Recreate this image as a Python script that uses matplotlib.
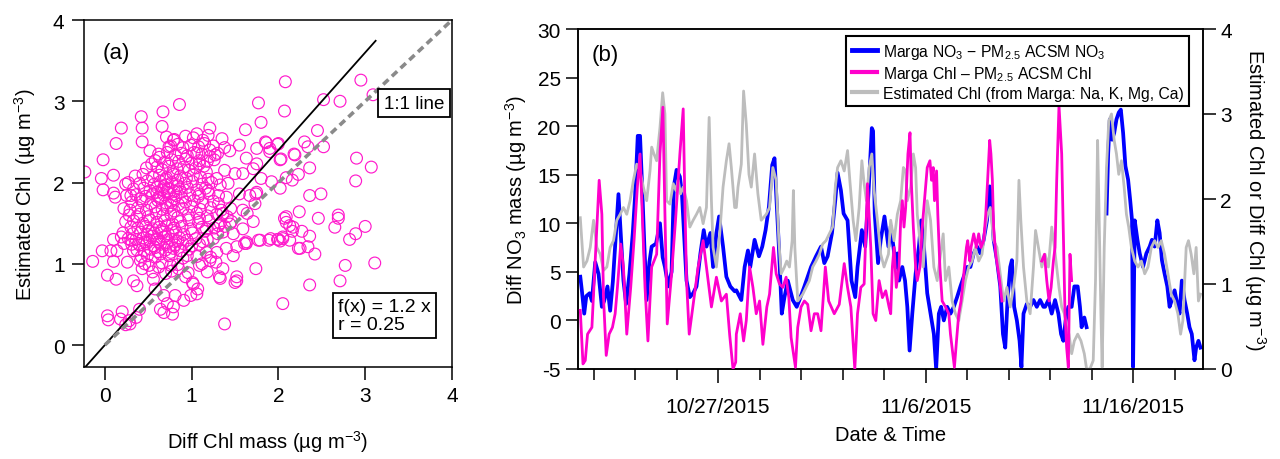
import numpy as np
import pandas as pd
import matplotlib
matplotlib.use('Agg')
import matplotlib.pyplot as plt
from matplotlib.lines import Line2D

plt.rcParams['font.family'] = ['Liberation Sans', 'DejaVu Sans']
plt.rcParams['mathtext.fontset'] = 'custom'
plt.rcParams['mathtext.rm'] = 'Liberation Sans'
plt.rcParams['mathtext.it'] = 'Liberation Sans:italic'
plt.rcParams['mathtext.default'] = 'regular'
plt.rcParams['axes.unicode_minus'] = False

# ---- panel (a): Diff Chl mass vs estimated Chl (ug m-3) ----
scatter_pts = [
    (-0.23, 2.13), (-0.02, 2.28), (-0.04, 2.05), (-0.02, 1.91), (0.10, 2.09), (0.12, 1.82), (0.13, 2.48),
    (0.19, 2.67), (0.42, 2.81), (0.43, 2.67), (0.43, 2.50), (0.67, 2.87), (0.66, 2.69), (0.86, 2.96),
    (-0.14, 1.03), (-0.03, 1.16), (0.03, 0.86), (0.13, 0.81), (0.03, 0.36), (0.04, 0.31), (0.20, 0.41),
    (0.29, 0.26), (0.36, 0.34), (0.40, 0.44), (1.38, 0.26), (2.05, 0.51), (1.74, 0.94), (1.52, 0.79),
    (1.33, 0.82), (2.36, 0.74), (2.71, 0.79), (2.77, 0.98), (3.11, 1.01), (2.42, 1.12), (2.34, 1.21),
    (2.25, 1.19), (3.00, 1.46), (2.89, 1.37), (2.82, 1.30), (2.65, 1.45), (2.69, 1.56), (2.69, 1.60),
    (2.46, 1.56), (2.24, 1.64), (2.07, 1.56), (2.13, 1.47), (2.16, 1.40), (2.27, 1.40), (2.36, 1.34),
    (2.36, 1.84), (2.49, 1.86), (2.36, 2.18), (2.34, 2.44), (2.30, 2.50), (2.45, 2.64), (2.52, 2.44),
    (2.19, 2.34), (2.23, 2.10), (2.16, 2.03), (2.09, 2.06), (2.02, 1.93), (2.02, 2.28), (1.99, 2.47),
    (1.85, 2.50), (1.75, 2.42), (1.80, 2.74), (1.77, 2.98), (2.07, 2.88), (2.08, 3.24), (2.52, 3.02),
    (2.71, 3.00), (2.95, 3.26), (3.09, 3.08), (2.90, 2.30), (3.07, 2.19), (2.89, 2.02), (1.62, 2.65),
    (1.90, 2.38), (1.91, 1.31), (1.77, 1.29), (1.89, 1.29), (1.99, 1.30), (2.02, 1.28), (2.05, 1.31),
    (1.71, 1.52), (1.74, 1.86), (1.75, 1.88), (1.64, 1.62), (1.63, 1.25), (1.50, 0.77), (1.32, 0.84),
    (0.52, 2.39), (0.63, 2.31), (0.54, 2.23), (0.10, 1.87), (0.24, 1.98), (0.30, 1.84), (0.41, 1.80),
    (0.29, 1.66), (0.37, 1.58), (0.79, 2.52), (0.74, 2.44),
    (1.35, 2.54), (1.21, 2.67), (1.06, 2.60), (1.55, 2.46), (1.44, 2.39), (1.27, 2.34), (1.86, 2.49),
    (2.00, 2.48), (1.90, 2.42), (2.03, 2.29), (2.18, 2.35), (1.75, 2.23), (1.63, 2.30), (1.71, 2.17),
    (1.38, 2.15), (1.50, 2.11), (1.59, 2.11), (1.80, 2.05), (1.92, 2.01), (1.42, 1.99), (1.29, 2.05),
    (1.17, 2.13), (1.09, 2.23), (1.67, 1.84), (1.55, 1.86), (1.40, 1.82), (1.31, 1.74), (1.19, 1.90),
    (1.36, 1.62), (1.59, 1.66), (1.73, 1.74), (2.09, 1.58), (1.09, 1.86), (1.06, 2.36), (1.21, 2.40),
    (0.10, 1.30), (0.19, 1.33), (0.07, 1.16), (0.14, 1.16), (0.22, 1.25), (0.10, 1.03), (0.26, 1.02),
    (0.33, 0.79), (0.37, 0.73), (0.56, 0.81), (0.58, 0.69), (0.70, 0.88), (0.43, 0.94), (0.51, 0.98),
    (0.68, 0.61), (0.68, 0.40), (0.78, 0.38), (0.79, 0.47), (0.72, 0.51), (0.64, 0.44), (0.81, 0.61),
    (0.91, 0.55), (0.99, 0.61), (1.01, 0.77), (0.93, 0.84), (0.85, 0.94), (0.76, 0.98), (0.62, 0.96),
    (0.18, 0.32), (0.28, 0.30), (0.24, 0.25), (0.33, 1.16), (0.30, 1.29), (0.39, 1.25), (0.41, 1.04),
    (0.49, 1.10), (0.64, 1.12), (0.76, 1.14), (0.87, 1.16), (0.95, 1.10),
    (1.79, 1.29), (2.00, 1.30), (2.05, 1.33), (2.13, 1.29), (2.23, 1.19), (2.09, 1.51), (2.17, 1.45),
    (1.63, 1.27), (1.52, 0.84), (1.07, 0.69), (1.06, 0.63), (1.02, 0.75), (1.09, 0.98), (1.21, 1.04),
    (1.36, 0.94), (1.48, 1.10), (1.40, 1.19), (1.52, 1.21), (1.61, 1.25), (1.29, 1.14), (1.17, 1.14),
    (1.13, 1.27), (1.25, 1.31), (1.36, 1.39), (1.48, 1.37), (1.59, 1.43), (1.44, 1.49), (1.31, 1.47),
    (1.17, 1.43), (1.09, 1.56),
    # dense core
    (0.71, 2.56), (0.80, 2.53), (0.93, 2.57), (1.02, 2.55), (1.13, 2.52), (1.19, 2.58),
    (0.76, 2.45), (0.84, 2.47), (0.90, 2.43), (0.99, 2.46), (1.08, 2.44), (1.15, 2.48), (1.25, 2.45), (1.38, 2.43),
    (0.62, 2.35), (0.72, 2.37), (0.81, 2.34), (0.88, 2.36), (0.95, 2.33), (1.03, 2.37), (1.12, 2.35), (1.21, 2.32),
    (1.30, 2.36), (0.58, 2.27), (0.69, 2.25), (0.77, 2.28), (0.85, 2.26), (0.93, 2.29), (1.00, 2.24), (1.09, 2.27),
    (1.18, 2.26), (1.26, 2.28), (0.48, 2.18), (0.60, 2.19), (0.66, 2.16), (0.74, 2.20), (0.83, 2.17), (0.91, 2.19),
    (0.97, 2.15), (1.05, 2.18), (1.14, 2.20), (0.35, 2.08), (0.44, 2.10), (0.55, 2.07), (0.63, 2.09), (0.71, 2.06),
    (0.79, 2.10), (0.87, 2.08), (0.94, 2.05), (1.02, 2.09), (1.10, 2.07), (1.19, 2.04), (0.27, 2.00), (0.40, 1.99),
    (0.49, 2.02), (0.57, 1.98), (0.64, 2.01), (0.70, 1.97), (0.77, 2.00), (0.84, 2.03), (0.92, 1.99), (1.01, 2.01),
    (1.12, 1.98), (1.23, 2.00), (1.33, 1.97), (0.33, 1.92), (0.45, 1.93), (0.52, 1.90), (0.60, 1.94), (0.66, 1.91),
    (0.73, 1.93), (0.80, 1.89), (0.86, 1.92), (0.95, 1.94), (1.06, 1.91), (1.16, 1.93), (0.25, 1.84), (0.36, 1.85),
    (0.47, 1.83), (0.55, 1.86), (0.62, 1.82), (0.68, 1.85), (0.74, 1.87), (0.82, 1.84), (0.89, 1.81), (0.98, 1.85),
    (1.08, 1.83), (1.20, 1.86), (1.31, 1.84), (0.31, 1.76), (0.43, 1.77), (0.53, 1.74), (0.61, 1.78), (0.70, 1.75),
    (0.77, 1.77), (0.85, 1.73), (0.93, 1.76), (1.03, 1.78), (1.13, 1.75), (1.25, 1.77), (0.22, 1.68), (0.38, 1.69),
    (0.48, 1.66), (0.58, 1.70), (0.66, 1.67), (0.72, 1.69), (0.80, 1.65), (0.90, 1.68), (1.00, 1.70), (1.10, 1.67),
    (1.22, 1.69), (1.34, 1.66), (1.45, 1.68), (0.28, 1.60), (0.40, 1.61), (0.50, 1.58), (0.59, 1.62), (0.67, 1.59),
    (0.76, 1.61), (0.84, 1.57), (0.96, 1.60), (1.06, 1.62), (1.18, 1.59), (1.29, 1.61), (1.41, 1.58), (0.24, 1.52),
    (0.33, 1.53), (0.44, 1.50), (0.52, 1.54), (0.60, 1.51), (0.69, 1.53), (0.78, 1.49), (0.87, 1.52), (0.97, 1.54),
    (1.08, 1.51), (1.20, 1.53), (1.33, 1.50), (1.46, 1.52), (0.30, 1.45), (0.38, 1.44), (0.47, 1.46), (0.55, 1.43),
    (0.63, 1.45), (0.71, 1.47), (0.80, 1.44), (0.89, 1.46), (0.99, 1.43), (1.12, 1.45), (1.26, 1.44), (1.38, 1.46),
    (0.21, 1.38), (0.32, 1.37), (0.41, 1.39), (0.49, 1.36), (0.57, 1.38), (0.65, 1.40), (0.73, 1.37), (0.82, 1.39),
    (0.91, 1.36), (1.01, 1.38), (1.15, 1.40), (1.30, 1.37), (0.27, 1.31), (0.36, 1.30), (0.44, 1.32), (0.52, 1.29),
    (0.60, 1.31), (0.68, 1.33), (0.77, 1.30), (0.86, 1.32), (0.95, 1.29), (1.05, 1.31), (1.18, 1.30), (0.31, 1.24),
    (0.40, 1.23), (0.48, 1.25), (0.56, 1.22), (0.64, 1.24), (0.72, 1.26), (0.81, 1.23), (0.90, 1.25), (1.00, 1.22),
    (1.09, 1.24), (0.37, 1.17), (0.45, 1.16), (0.53, 1.18), (0.61, 1.15), (0.70, 1.17), (0.79, 1.19), (0.88, 1.16),
    (0.97, 1.18), (0.42, 1.09), (0.58, 1.08), (0.74, 1.10), (0.90, 1.07), (1.06, 1.09), (1.22, 1.08), (0.46, 1.00),
    (0.66, 1.01), (0.84, 0.99), (1.12, 1.00), (1.28, 1.02), (0.55, 0.90), (0.77, 0.91), (0.96, 0.89), (1.18, 0.90),
    (0.46, 1.27), (0.54, 1.34), (0.62, 1.27), (0.70, 1.34), (0.78, 1.41), (0.50, 1.41), (0.58, 1.20), (0.66, 1.42),
    (0.74, 1.21), (0.84, 1.28), (0.64, 1.80), (0.72, 1.88), (0.80, 1.80), (0.68, 1.95), (0.76, 1.72), (0.84, 1.96),
    (0.88, 1.88), (0.60, 1.88), (0.70, 2.04), (0.78, 2.12),
]
fit_slope = 1.2
fit_r = 0.25

# ---- panel (b): time series, days after 2015-10-20 00:00 ----
start_date = '2015-10-20'

no3_days = [
    0.36, 0.44, 0.55, 0.65, 0.81, 0.92, 1.08, 1.24, 1.40, 1.51, 1.67, 1.80, 1.93, 2.04, 2.20, 2.31, 2.44, 2.57,
    2.73, 2.89, 3.00, 3.13, 3.24, 3.34, 3.45, 3.56, 3.69, 3.80, 4.01, 4.20, 4.33, 4.44, 4.60, 4.76, 4.87, 5.00,
    5.16, 5.26, 5.35, 5.48, 5.64, 5.80, 5.96, 6.15, 6.31, 6.44, 6.63, 6.76, 6.92, 7.05, 7.24, 7.40, 7.59, 7.80,
    7.88, 8.12, 8.28, 8.44, 8.55, 8.76, 8.97, 9.13, 9.29, 9.45, 9.61, 9.72, 9.80, 9.93, 10.07, 10.20, 10.36,
    10.60, 10.79, 10.92, 11.16, 11.48, 11.72, 11.96, 12.12, 12.28, 12.49, 12.65, 12.76, 12.92, 13.05, 13.24,
    13.43, 13.61, 13.72, 13.93, 14.09, 14.25, 14.41, 14.47, 14.55, 14.71, 14.84, 15.02, 15.21,
    15.32, 15.45, 15.56, 15.64, 15.72, 15.88, 16.01, 16.12, 16.23, 16.36, 16.52, 16.68, 16.79, 16.92, 17.08,
    17.24, 17.40, 17.51, 17.64, 17.75, 17.88, 18.04, 18.20, 18.36, 18.52, 18.68, 18.84, 19.00, 19.16, 19.32,
    19.48, 19.64, 19.80, 19.96, 20.09, 20.20, 20.28, 20.44, 20.60, 20.73, 20.84, 20.95, 21.08, 21.16, 21.27,
    21.40, 21.53, 21.62, 21.72, 21.88, 22.04, 22.20, 22.36, 22.52, 22.68,
    22.76, 22.92, 23.08, 23.24, 23.40, 23.53, 23.64, 23.75, 23.88, 24.04, 24.17, 24.33, 24.44, 24.52, 24.65,
    24.76, 25.20, 25.72, 25.80, 25.88, 25.99, 26.09, 26.20, 26.31, 26.41, 26.52, 26.63, 26.76, 26.86, 26.95,
    27.00, 27.08, 27.21, 27.32, 27.48, 27.64, 27.80, 27.91, 28.04, 28.17, 28.28, 28.39, 28.52, 28.65, 28.76,
    28.87, 29.00, 29.13, 29.24, 29.35, 29.48, 29.61, 29.72, 29.83, 29.96, 30.04, 30.15, 30.25,
]
no3_diff = [
    4.5, 3.0, 0.7, 2.5, 2.8, 2.0, 6.0, 4.8, 1.4, 2.0, 3.5, 1.0, 4.0, 7.6, 13.0, 9.0, 4.1, 1.7,
    4.8, 9.0, 12.8, 19.0, 19.0, 13.8, 7.6, 2.1, 6.0, 7.6, 7.9, 10.0, 6.5, 5.5, 3.5, 5.0, 13.8, 15.5,
    14.8, 13.0, 9.3, 4.1, 2.4, 2.8, 3.5, 6.9, 9.3, 7.6, 9.0, 5.5, 9.0, 10.7, 7.6, 4.5, 3.5, 3.0,
    3.1, 2.1, 5.5, 7.2, 5.5, 8.3, 6.6, 7.6, 9.3, 11.7, 16.0, 16.7, 13.1, 7.6, 0.7, 2.4, 4.1,
    2.1, 1.4, 2.1, 3.5, 5.5, 6.6, 7.6, 5.9, 6.6, 9.0, 12.4, 15.2, 13.4, 11.0, 10.3,
    4.1, 2.4, 5.5, 9.3, 7.6, 13.1, 19.8, 19.5, 11.0, 5.9, 8.3, 10.7, 7.6,
    9.7, 7.6, 5.5, 6.9, 4.1, 5.5, 4.1, 1.4, -3.1, 0.7, 4.8, 7.6, 10.3, 7.6, 2.8,
    0.7, -1.4, -5.0, 0.7, 1.4, 0.0, 1.4, 0.7, 1.4, 2.4, 3.5, 4.5, 5.5, 5.5, 6.9,
    7.6, 6.9, 8.3, 10.3, 13.8, 11.7, 8.3, 6.2, 3.5, -1.4, -2.8, 2.1, 5.5, 6.2, 1.4,
    0.0, -2.1, -4.8, 0.7, 1.7, 1.4, 2.1, 1.4, 2.1, 1.4,
    1.4, 2.1, 0.7, 2.1, 0.7, -1.4, -2.1, 0.0, 1.4, 1.4, 3.5, 3.5, 1.4, -0.7, 0.3,
    -0.7, np.nan, 11.0, 17.2, 20.7, 18.6, 19.3, 20.7, 21.4, 21.7, 19.3, 15.9, 14.5, 12.4, 10.3,
    -4.8, 10.3, 8.3, 6.9, 5.5, 6.9, 7.6, 8.3, 7.6, 10.3, 9.0, 6.2, 4.8, 3.5, 1.4,
    2.1, 3.1, 1.7, 0.7, 4.1, 2.1, 0.7, -0.7, -1.4, -4.1, -2.8, -2.1, -2.8,
]

chl_days = [
    0.36, 0.49, 0.60, 0.71, 0.92, 1.11, 1.27, 1.40, 1.48, 1.61, 1.75, 1.91, 2.04, 2.15, 2.31, 2.44, 2.60, 2.79,
    2.95, 3.11, 3.24, 3.35, 3.48, 3.62, 3.80, 4.04, 4.20, 4.34, 4.44, 4.55, 4.76, 4.95, 5.16, 5.32, 5.40, 5.48,
    5.61, 5.80, 6.04, 6.28, 6.44, 6.68, 6.92, 7.16, 7.40, 7.56, 7.72, 7.85,
    7.88, 8.07, 8.23, 8.36, 8.52, 8.68, 8.84, 9.00, 9.16, 9.35, 9.48, 9.67, 9.80, 9.96, 10.12, 10.28, 10.41,
    10.52, 10.73, 10.84, 11.00, 11.16, 11.32, 11.48, 11.64, 11.80, 11.96, 12.17, 12.33, 12.60, 12.84, 13.08,
    13.24, 13.40, 13.59, 13.72, 13.88, 14.04, 14.20, 14.36, 14.47, 14.60, 14.76, 14.92, 15.08, 15.24,
    15.32, 15.40, 15.48, 15.59, 15.72, 15.80, 15.88, 15.96, 16.04, 16.15, 16.25, 16.31, 16.41, 16.52, 16.60,
    16.73, 16.84, 17.00, 17.08, 17.21, 17.29, 17.37, 17.43, 17.53, 17.59, 17.69, 17.80, 17.96, 18.12, 18.20,
    18.28, 18.39, 18.49, 18.60, 18.71, 18.84, 18.97, 19.03, 19.13, 19.19, 19.32, 19.45, 19.56, 19.67, 19.80,
    19.90, 19.99, 20.09, 20.15, 20.22, 20.28, 20.38, 20.47, 20.57, 20.68,
    21.60, 22.60, 22.73, 22.84, 22.95, 23.05, 23.16, 23.24, 23.32, 23.37, 23.43, 23.50, 23.56, 23.64, 23.72,
    23.80, 23.88, 23.96, 24.04,
]
chl_diff = [
    0.69, 0.06, 0.10, 0.41, 0.49, 1.43, 2.22, 1.82, 0.84, 0.16, 0.41, 0.49, 0.65, 0.96, 1.47, 1.20, 0.41, 0.96,
    1.51, 2.14, 2.53, 1.82, 0.96, 0.33, 1.20, 1.35, 2.53, 3.08, 1.82, 0.53, 1.12, 1.75, 2.53, 3.06, 1.98, 1.04,
    0.41, 0.76, 1.20, 1.51, 1.20, 0.73, 1.08, 0.80, 0.88, 0.40, 0.00, 0.08,
    0.41, 0.65, 0.33, 0.57, 1.20, 0.96, 0.65, 0.80, 0.29, 0.73, 0.88, 1.43, 1.12, 1.00, 0.96, 1.08, 0.84,
    0.37, 0.02, 0.49, 0.73, 0.80, 0.76, 0.45, 0.65, 0.65, 0.45, 1.20, 0.80, 0.65, 0.76, 1.24,
    0.96, 0.73, 0.00, 0.65, 0.96, 1.00, 2.18, 1.43, 0.65, 0.57, 1.04, 0.84, 0.92, 0.73,
    0.65, 1.20, 1.43, 0.96, 1.20, 1.75, 1.98, 1.67, 1.90, 2.53, 2.78, 2.22, 1.67, 1.20, 1.04,
    1.20, 1.67, 2.14, 2.37, 2.45, 2.22, 2.37, 1.98, 2.33, 1.82, 1.20, 0.80, 0.73, 0.65, 0.41,
    0.25, 0.02, 0.33, 0.65, 0.80, 1.12, 1.43, 1.51, 1.27, 1.43, 1.59, 1.43, 1.59, 1.43, 1.51,
    1.82, 2.22, 2.69, 2.53, 2.22, 1.67, 1.35, 1.20, 1.04, 0.80,
    np.nan, 1.27, 1.35, 1.04, 0.80, 0.96, 1.27, 1.43, 2.22, 2.61, 3.10, 2.80, 2.53, 1.59, 0.65,
    0.25, 0.02, 1.35, 1.04,
]

est_days = [
    0.36, 0.52, 0.68, 0.84, 1.00, 1.16, 1.32, 1.48, 1.64, 1.80, 1.96, 2.12, 2.28, 2.44, 2.60, 2.76, 2.92, 3.08,
    3.24, 3.40, 3.56, 3.72, 3.80, 3.91, 4.04, 4.20, 4.33, 4.44, 4.52, 4.68, 4.84, 4.97, 5.08, 5.19, 5.32, 5.48,
    5.64, 5.80, 5.96, 6.12, 6.28, 6.44, 6.57, 6.68, 6.76, 6.92, 7.08, 7.24, 7.40, 7.53, 7.64, 7.80,
    7.88, 7.96, 8.12, 8.23, 8.36, 8.49, 8.60, 8.76, 8.92, 9.08, 9.32, 9.48, 9.64, 9.80, 9.93, 10.04, 10.20,
    10.31, 10.44, 10.57, 10.63, 10.70, 10.84, 11.08, 11.24, 11.40, 11.56, 11.72, 11.88, 12.04, 12.20, 12.36,
    12.52, 12.65, 12.76, 12.92, 13.08, 13.24, 13.35, 13.51, 13.64, 13.80, 13.93, 14.04, 14.15, 14.28, 14.41,
    14.52, 14.68, 14.84, 15.00, 15.21,
    15.32, 15.48, 15.64, 15.80, 15.93, 16.04, 16.12, 16.28, 16.41, 16.52, 16.60, 16.76, 16.89, 17.00, 17.08,
    17.24, 17.40, 17.56, 17.72, 17.85, 17.96, 18.12, 18.28, 18.44, 18.60, 18.76, 18.92, 19.08, 19.24, 19.40,
    19.56, 19.72, 19.88, 19.99, 20.12, 20.28, 20.44, 20.60, 20.76, 20.92, 21.08, 21.24, 21.40, 21.50, 21.59,
    21.72, 21.88, 22.04, 22.20, 22.30, 22.44, 22.60,
    22.76, 22.92, 23.08, 23.21, 23.32, 23.43, 23.56, 23.69, 23.80, 23.91, 24.04, 24.17, 24.33, 24.49, 24.65,
    24.76, 24.92, 25.08, 25.19, 25.29, 25.35, 25.45, 25.51, 25.61, 25.72, 25.83, 25.96, 26.09, 26.20, 26.31,
    26.44, 26.57, 26.68, 26.79, 26.92, 27.08, 27.24, 27.40, 27.56, 27.72, 27.88, 28.04, 28.20, 28.36, 28.52,
    28.68, 28.84, 29.00, 29.16, 29.29, 29.40, 29.56, 29.67, 29.80, 29.93, 30.04, 30.15, 30.25,
]
est_chl = [
    1.78, 1.20, 1.27, 1.43, 1.75, 1.43, 1.35, 1.16, 1.20, 1.43, 1.51, 1.75, 1.82, 1.90, 1.82, 1.98, 2.22, 2.41,
    2.33, 2.14, 1.98, 2.33, 2.61, 2.53, 2.45, 2.84, 3.25, 3.00, 1.98, 1.94, 2.18, 2.10, 2.22, 2.06, 2.14, 1.98,
    1.67, 1.75, 1.82, 1.90, 1.71, 1.90, 2.96, 1.98, 1.43, 1.20, 1.59, 2.14, 2.45, 2.65, 2.37, 1.90,
    1.90, 2.14, 2.41, 3.27, 2.88, 2.29, 2.14, 2.53, 2.06, 1.75, 1.82, 1.90, 2.37, 2.22, 1.51, 1.12, 1.20,
    1.27, 1.20, 1.51, 2.10, 1.43, 0.80, 0.88, 0.96, 1.04, 1.20, 1.27, 1.35, 1.47, 1.51, 1.59,
    1.67, 2.14, 2.37, 2.45, 2.33, 2.57, 2.22, 1.75, 1.51, 1.90, 2.45, 2.18, 1.98, 2.37, 2.53,
    2.10, 1.75, 1.35, 1.20, 1.35,
    1.75, 1.51, 1.82, 1.98, 2.37, 2.33, 1.98, 2.14, 2.53, 2.37, 1.82, 1.43, 1.20, 1.67, 1.98,
    1.75, 1.20, 1.04, 1.35, 1.59, 1.04, 1.20, 0.80, 0.65, 0.57, 0.80, 1.04, 1.20, 1.27, 1.43,
    1.27, 1.35, 1.67, 1.82, 1.90, 1.51, 1.43, 1.12, 0.80, 0.96, 0.73, 0.96, 1.27, 2.22, 1.75,
    1.20, 0.80, 0.65, 1.20, 1.63, 1.43, 1.20,
    1.35, 1.20, 1.67, 1.43, 1.20, 0.96, 0.73, 0.65, 0.49, 0.41, 0.18, 0.33, 0.41, 0.33, 0.18,
    0.00, 0.00, 0.10, 1.04, 2.69, 1.98, 0.65, 0.02, 1.43, 2.37, 2.92, 3.00, 2.69, 2.53, 2.29,
    2.45, 2.14, 1.82, 1.67, 1.43, 1.27, 1.20, 1.27, 1.12, 1.20, 1.43, 1.51, 1.43, 1.51, 1.35,
    1.12, 0.88, 0.80, 0.65, 0.41, 0.57, 1.43, 1.51, 1.35, 1.12, 1.43, 0.80, 0.88,
]

legend_labels = [
    'Marga NO$_3$ \u2212 PM$_{2.5}$ ACSM NO$_3$',
    'Marga Chl \u2013 PM$_{2.5}$ ACSM Chl',
    'Estimated Chl (from Marga: Na, K, Mg, Ca)',
]
blue = '#0000ff'
pink = '#ff00cc'
grey = '#bdbdbd'


def to_time(days):
    return pd.Timestamp(start_date) + pd.to_timedelta(np.asarray(days, dtype=float), unit='D')


fig = plt.figure(figsize=(12.8, 4.6), dpi=100)
ax1 = fig.add_axes([84 / 1280, 1 - 368 / 460, 368 / 1280, 347 / 460])
ax = fig.add_axes([578 / 1280, 1 - 370 / 460, 625 / 1280, 340 / 460])
ax2 = ax.twinx()

# panel (a)
sx = [p[0] for p in scatter_pts]
sy = [p[1] for p in scatter_pts]
ax1.scatter(sx, sy, s=72, facecolors='none', edgecolors='#ff1acc', linewidths=0.85, zorder=2)
fx = np.array([-0.24, 3.12])
ax1.plot(fx, fit_slope * fx, color='black', lw=1.3, zorder=3)
ax1.plot([0, 4], [0, 4], color='#8a8a8a', lw=2.6, ls=(0, (2.0, 1.3)), zorder=3)
ax1.set_xlim(-0.24, 4)
ax1.set_ylim(-0.27, 4)
ax1.set_xticks(range(5))
ax1.set_yticks(range(5))
ax1.tick_params(direction='out', length=9, width=1.1, labelsize=15, pad=5)
for s in ax1.spines.values():
    s.set_linewidth(1.1)
ax1.set_xlabel('Diff Chl mass (\u00b5g m$^{-3}$)', fontsize=14.5, labelpad=16)
ax1.set_ylabel('Estimated Chl  (\u00b5g m$^{-3}$)', fontsize=14.5, labelpad=11)
ax1.text(0.05, 0.905, '(a)', transform=ax1.transAxes, fontsize=16, va='center', ha='left')
ax1.text(0.815, 0.76, '1:1 line', transform=ax1.transAxes, fontsize=13.5, va='center', ha='left',
         bbox=dict(boxstyle='square,pad=0.3', fc='white', ec='black', lw=1.3))
ax1.text(0.69, 0.148, 'f(x) = %.1f x\nr = %.2f' % (fit_slope, fit_r), transform=ax1.transAxes,
         fontsize=14, va='center', ha='left', linespacing=1.05,
         bbox=dict(boxstyle='square,pad=0.25', fc='white', ec='black', lw=1.3))

# panel (b)
ax.plot(to_time(no3_days), no3_diff, color=blue, lw=2.7, zorder=2)
ax2.plot(to_time(est_days), est_chl, color=grey, lw=2.0, zorder=2)
ax2.plot(to_time(chl_days), chl_diff, color=pink, lw=2.0, zorder=3)

ax.set_ylim(-5, 30)
ax.set_yticks(range(-5, 31, 5))
ax2.set_ylim(0, 4)
ax2.set_yticks(range(0, 5))
t_lo = pd.Timestamp(start_date) + pd.Timedelta(hours=6)
t_hi = pd.Timestamp(start_date) + pd.Timedelta(days=30.37)
ax.set_xlim(t_lo, t_hi)

major = pd.to_datetime(['2015-10-27', '2015-11-06', '2015-11-16'])
minor = pd.date_range('2015-10-21', '2015-11-18', freq='2D')
ax.set_xticks(major)
ax.set_xticklabels(['%d/%d/%d' % (d.month, d.day, d.year) for d in major])
ax.set_xticks(minor, minor=True)
ax.tick_params(axis='x', which='major', direction='out', length=10, width=1.1, labelsize=15, pad=10)
ax.tick_params(axis='x', which='minor', direction='out', length=8, width=1.1)
ax.tick_params(axis='y', direction='out', length=9, width=1.1, labelsize=15)
ax2.tick_params(axis='y', direction='out', length=9, width=1.1, labelsize=15)
for s in list(ax.spines.values()) + list(ax2.spines.values()):
    s.set_linewidth(1.1)

ax.set_xlabel('Date & Time', fontsize=14.5, labelpad=7)
ax.set_ylabel('Diff NO$_3$ mass (\u00b5g m$^{-3}$)', fontsize=14.5, labelpad=6)
ax2.set_ylabel('Estimated Chl or Diff Chl (\u00b5g m$^{-3}$)', fontsize=14.5, rotation=270, labelpad=26)
ax.text(0.022, 0.924, '(b)', transform=ax.transAxes, fontsize=16, va='center', ha='left')

handles = [Line2D([], [], color=blue, lw=3.5),
           Line2D([], [], color=pink, lw=3.0),
           Line2D([], [], color=grey, lw=3.0)]
leg = ax2.legend(handles, legend_labels, loc='upper right', bbox_to_anchor=(0.978, 0.979),
                 borderaxespad=0, fontsize=11.3, handlelength=1.6, handletextpad=0.4,
                 labelspacing=0.2, borderpad=0.35, fancybox=False, framealpha=1,
                 edgecolor='black')
leg.get_frame().set_linewidth(1.5)
leg.set_zorder(10)

fig.savefig('out.png', dpi=100)
